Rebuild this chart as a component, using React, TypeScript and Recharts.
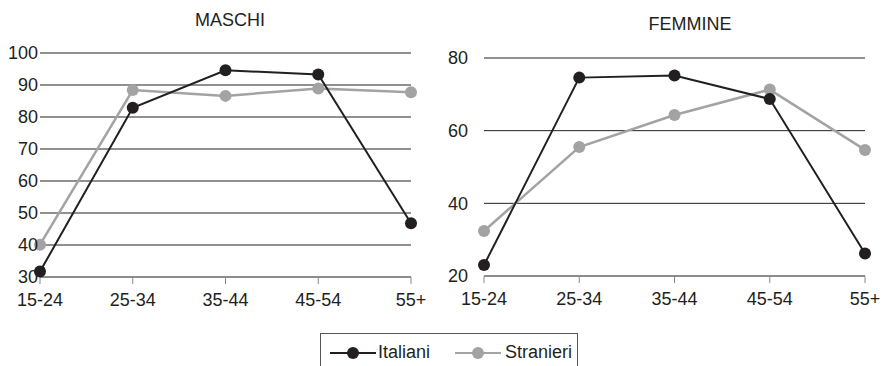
import { CartesianGrid, Line, LineChart, XAxis, YAxis } from "recharts";

const ageGroups = ["15-24", "25-34", "35-44", "45-54", "55+"];

const maschiItaliani = [31.7, 82.9, 94.6, 93.3, 46.8];
const maschiStranieri = [40.1, 88.4, 86.6, 88.9, 87.7];
const femmineItaliani = [23.0, 74.6, 75.2, 68.7, 26.2];
const femmineStranieri = [32.4, 55.5, 64.3, 71.3, 54.7];

const maschiTicks = [30, 40, 50, 60, 70, 80, 90, 100];
const femmineTicks = [20, 40, 60, 80];

const DARK = "#231f20";
const GREY = "#a3a3a3";
const FONT = "'Liberation Sans', Arial, sans-serif";

function toRows(italiani: number[], stranieri: number[]) {
  return ageGroups.map((label, i) => ({
    label,
    italiani: italiani[i],
    stranieri: stranieri[i],
  }));
}

const tickStyle = { fill: DARK, fontSize: 18, fontFamily: FONT };

interface PanelProps {
  data: { label: string; italiani: number; stranieri: number }[];
  ticks: number[];
  width: number;
  yWidth: number;
  top: number;
  right: number;
  xHeight: number;
  yMargin: number;
}

function Panel({ data, ticks, width, yWidth, top, right, xHeight, yMargin }: PanelProps) {
  return (
    <LineChart
      width={width}
      height={320}
      data={data}
      margin={{ top, right, left: 0, bottom: 0 }}
    >
      <CartesianGrid vertical={false} stroke="#222" strokeWidth={1} />
      <XAxis
        dataKey="label"
        height={xHeight}
        stroke="#888"
        tickSize={7}
        tickMargin={9}
        tick={tickStyle}
        interval={0}
      />
      <YAxis
        width={yWidth}
        domain={[ticks[0], ticks[ticks.length - 1]]}
        ticks={ticks}
        axisLine={false}
        tickLine={false}
        tickSize={0}
        tickMargin={yMargin}
        tick={tickStyle}
      />
      <Line
        dataKey="stranieri"
        stroke={GREY}
        strokeWidth={2.5}
        dot={{ r: 6, fill: GREY, stroke: GREY, strokeWidth: 0 }}
        isAnimationActive={false}
      />
      <Line
        dataKey="italiani"
        stroke={DARK}
        strokeWidth={2}
        dot={{ r: 6, fill: DARK, stroke: DARK, strokeWidth: 0 }}
        isAnimationActive={false}
      />
    </LineChart>
  );
}

function LegendIcon({ color }: { color: string }) {
  return (
    <svg width={46} height={14} style={{ display: "block" }}>
      <line x1={0} y1={7} x2={46} y2={7} stroke={color} strokeWidth={2} />
      <circle cx={23} cy={7} r={6} fill={color} />
    </svg>
  );
}

export default function App() {
  return (
    <div
      style={{
        position: "absolute",
        left: 0,
        top: 0,
        width: 883,
        height: 366,
        overflow: "hidden",
        background: "#fff",
        fontFamily: FONT,
        color: DARK,
      }}
    >
      <div style={{ position: "absolute", left: 0, top: 0 }}>
        <Panel
          data={toRows(maschiItaliani, maschiStranieri)}
          ticks={maschiTicks}
          width={440}
          yWidth={40}
          top={53}
          right={29}
          xHeight={43}
          yMargin={2}
        />
      </div>
      <div style={{ position: "absolute", left: 440, top: 0 }}>
        <Panel
          data={toRows(femmineItaliani, femmineStranieri)}
          ticks={femmineTicks}
          width={443}
          yWidth={44}
          top={58}
          right={18}
          xHeight={44}
          yMargin={16}
        />
      </div>
      <div
        style={{
          position: "absolute",
          left: 130,
          width: 200,
          top: 10,
          textAlign: "center",
          fontSize: 18,
        }}
      >
        MASCHI
      </div>
      <div
        style={{
          position: "absolute",
          left: 590,
          width: 200,
          top: 14,
          textAlign: "center",
          fontSize: 18,
        }}
      >
        FEMMINE
      </div>
      <div
        style={{
          position: "absolute",
          left: 320,
          top: 333,
          width: 256,
          height: 50,
          border: "1px solid #555",
          fontSize: 18,
        }}
      >
        <div style={{ position: "absolute", left: 9, top: 12 }}>
          <LegendIcon color={DARK} />
        </div>
        <div style={{ position: "absolute", left: 57, top: 8 }}>Italiani</div>
        <div style={{ position: "absolute", left: 134, top: 12 }}>
          <LegendIcon color={GREY} />
        </div>
        <div style={{ position: "absolute", left: 184, top: 8 }}>Stranieri</div>
      </div>
    </div>
  );
}
